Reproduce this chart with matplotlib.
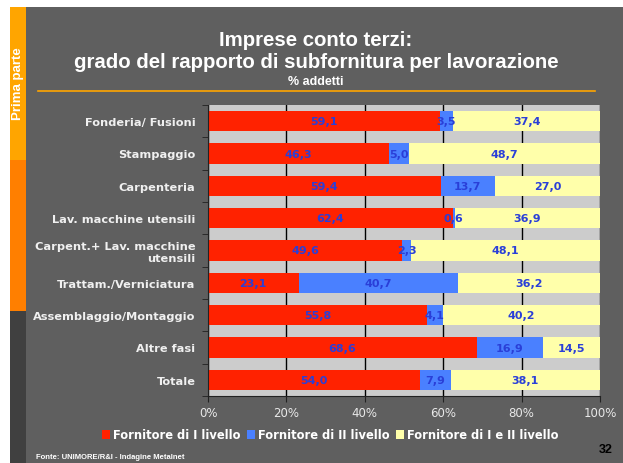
import matplotlib.pyplot as plt
import matplotlib.patches as patches

categories = ['Fonderia/ Fusioni', 'Stampaggio', 'Carpenteria',
              'Lav. macchine utensili', 'Carpent.+ Lav. macchine\nutensili',
              'Trattam./Verniciatura', 'Assemblaggio/Montaggio',
              'Altre fasi', 'Totale']
liv1 = [59.1, 46.3, 59.4, 62.4, 49.6, 23.1, 55.8, 68.6, 54.0]
liv2 = [3.5, 5.0, 13.7, 0.6, 2.3, 40.7, 4.1, 16.9, 7.9]
liv12 = [37.4, 48.7, 27.0, 36.9, 48.1, 36.2, 40.2, 14.5, 38.1]
series_names = ['Fornitore di I livello', 'Fornitore di II livello',
                'Fornitore di I e II livello']
colors = ['#ff2200', '#4a80ff', '#ffffaa']

W, H = 623, 464
ARIAL = 'Liberation Sans'
fig = plt.figure(figsize=(W / 100, H / 100), dpi=100)
fig.patch.set_facecolor('white')

def box(x0, y0, x1, y1, color):
    # pixel coords, y from top
    fig.add_artist(patches.Rectangle((x0 / W, 1 - y1 / H), (x1 - x0) / W,
                                     (y1 - y0) / H, transform=fig.transFigure,
                                     facecolor=color, edgecolor='none', zorder=0))

box(26, 8, 623, 464, '#5f5f5f')
box(10, 8, 26, 161, '#ffa500')
box(10, 161, 26, 312, '#ff7f00')
box(10, 312, 26, 464, '#404040')
fig.text(18 / W, 1 - 84 / H, 'Prima parte', rotation=90, color='white',
         fontsize=9.5, fontweight='bold', ha='center', va='center', family=ARIAL)

fig.text(0.507, 1 - 40 / H, 'Imprese conto terzi:', color='white',
         fontsize=14.7, fontweight='bold', ha='center', va='center', family=ARIAL)
fig.text(0.507, 1 - 63 / H, 'grado del rapporto di subfornitura per lavorazione',
         color='white', fontsize=14.7, fontweight='bold', ha='center', va='center',
         family=ARIAL)
fig.text(0.507, 1 - 82 / H, '% addetti', color='white', fontsize=9,
         fontweight='bold', ha='center', va='center', family=ARIAL)
fig.add_artist(plt.Line2D([38 / W, 595 / W], [1 - 92 / H, 1 - 92 / H],
                          color='#ffa500', lw=1.2, transform=fig.transFigure))

ax = fig.add_axes([208 / W, 1 - 397 / H, (600 - 208) / W, (397 - 106) / H])
ax.set_facecolor('#cccccc')
y = list(range(len(categories)))
left = [0] * len(categories)
for vals, name, c in zip([liv1, liv2, liv12], series_names, colors):
    bars = ax.barh(y, vals, left=left, height=0.62, color=c, label=name, zorder=2)
    for b, v, l in zip(bars, vals, left):
        ax.text(l + v / 2, b.get_y() + b.get_height() / 2,
                ('%.1f' % v).replace('.', ','), color='#2a3fd8', fontsize=8,
                fontweight='bold', ha='center', va='center', zorder=3)
    left = [a + b for a, b in zip(left, vals)]

ax.set_xlim(0, 100)
ax.set_ylim(len(categories) - 0.5, -0.5)
ax.set_xticks([0, 20, 40, 60, 80, 100])
ax.set_xticklabels(['0%', '20%', '40%', '60%', '80%', '100%'])
ax.xaxis.grid(True, color='black', lw=1, zorder=1)
ax.set_axisbelow(True)
ax.set_yticks(y)
ax.set_yticklabels(categories)
ax.set_yticks([i + 0.5 for i in range(-1, len(categories))], minor=True)
ax.tick_params(axis='y', which='major', length=0, pad=9, labelsize=8.2,
               labelcolor='#f0f0f0')
ax.tick_params(axis='y', which='minor', length=4, color='#222222')
ax.tick_params(axis='x', length=4, color='#222222', labelsize=8.5,
               labelcolor='#e8e8e8', pad=3)
for lbl in ax.get_yticklabels():
    lbl.set_fontweight('bold')
for s in ['top', 'right']:
    ax.spines[s].set_visible(False)
ax.spines['left'].set_color('#222222')
ax.spines['bottom'].set_color('#222222')

leg = fig.legend(loc='center', bbox_to_anchor=(0.53, 1 - 436 / H), ncol=3,
                 frameon=False, fontsize=8.3, handlelength=0.7, handleheight=0.7,
                 handletextpad=0.3, columnspacing=0.5)
for t in leg.get_texts():
    t.set_color('white')
    t.set_fontweight('bold')

fig.text(36 / W, 1 - 458 / H, 'Fonte: UNIMORE/R&I - Indagine Metalnet',
         color='white', fontsize=5.5, fontweight='bold', va='center', family=ARIAL)
fig.text(613 / W, 1 - 450 / H, '32', color='black', fontsize=9,
         fontweight='bold', ha='right', va='center', family=ARIAL)

fig.savefig('out.png', dpi=100, facecolor=fig.get_facecolor())
